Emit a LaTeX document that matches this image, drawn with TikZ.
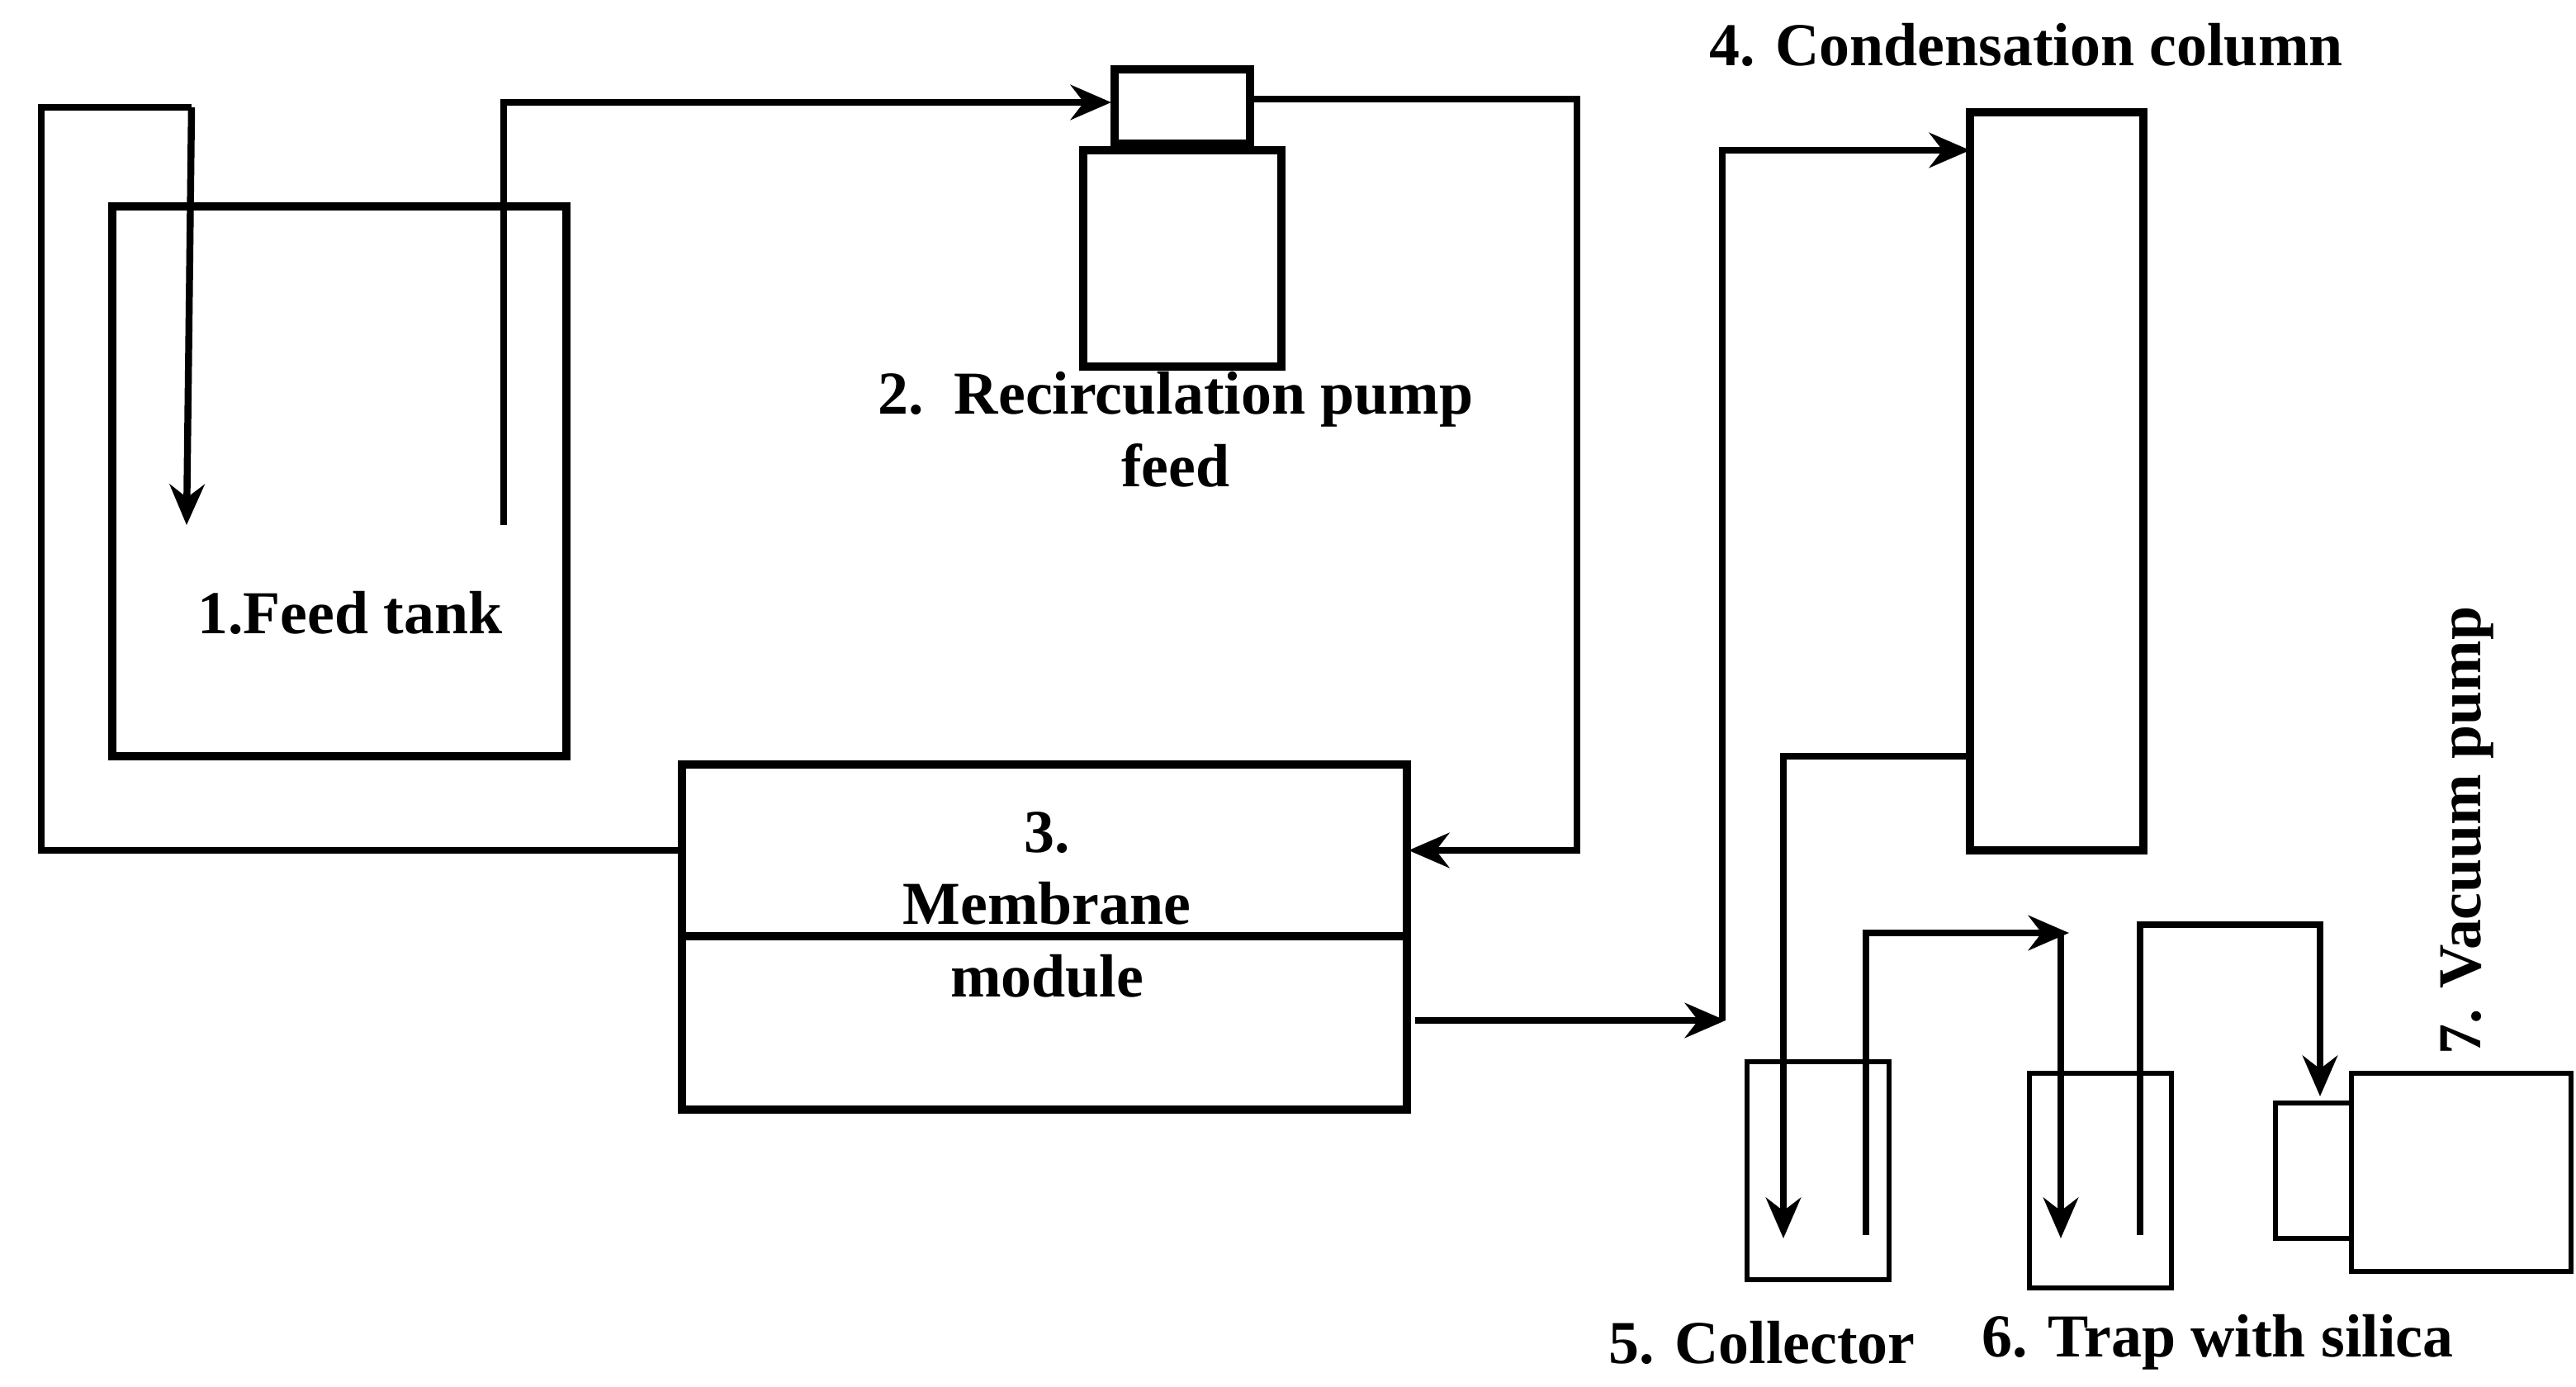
\documentclass[tikz,border=0pt]{standalone}
\usepackage{fontspec}
\setmainfont{Liberation Serif}
\usetikzlibrary{arrows.meta}
\tikzset{
  box/.style={draw, line width=1.4pt},
  thinbox/.style={draw, line width=0.8pt},
  pipe/.style={line width=1.2pt},
  flow/.style={pipe, -{Stealth[length=7pt,width=6pt]}},
  lbl/.style={font=\fontsize{10.5}{12.5}\selectfont\bfseries, align=center}
}
\begin{document}
\begin{tikzpicture}[x=0.01cm, y=-0.01cm]
    \useasboundingbox (0,0) rectangle (1560,840);

    % Feed tank
    \draw[box] (68,125) rectangle (343,458);
    \node[lbl] (tank) at (212,371) {1.Feed tank};

    % Recirculation pump
    \draw[box] (675,42) rectangle (757,87);
    \draw[box] (656,91) rectangle (776,222);
    \node[lbl] (pump) at (712,260) {2.\ \ Recirculation pump\\feed};

    % Membrane module
    \draw[box] (413,463) rectangle (852,672);
    \draw[box] (413,567) -- (852,567);
    \node[lbl] (mod) at (634,548) {3.\\Membrane\\module};

    % Condensation column
    \draw[box] (1193,68) rectangle (1298,515);
    \node[lbl] (col) at (1227,27) {4. Condensation column};

    % Collector, trap, vacuum pump
    \draw[thinbox] (1058,643) rectangle (1144,775);
    \draw[thinbox] (1229,650) rectangle (1315,780);
    \draw[thinbox] (1378,668) rectangle (1424,750);
    \draw[thinbox] (1424,650) rectangle (1557,770);
    \node[lbl] (coll) at (1067,813) {5. Collector};
    \node[lbl] (trap) at (1343,813) {6. Trap with silica};
    \node[lbl, rotate=90] (vac) at (1494,503) {7. Vacuum pump};

    % Pipes
    \draw[pipe] (412,515) -- (25,515) -- (25,65) -- (116,65);
    \draw[flow] (116,65) -- (113,318);
    \draw[flow] (305,318) -- (305,62) -- (673,62);
    \draw[flow] (757,60) -- (955,60) -- (955,515) -- (853,515);
    \draw[flow] (857,618) -- (1045,618);
    \draw[flow] (1043,618) -- (1043,91) -- (1193,91);
    \draw[flow] (1193,458) -- (1080,458) -- (1080,750);
    \draw[flow] (1130,748) -- (1130,565) -- (1253,565);
    \draw[flow] (1248,565) -- (1248,750);
    \draw[flow] (1296,748) -- (1296,560) -- (1405,560) -- (1405,664);
\end{tikzpicture}
\end{document}
